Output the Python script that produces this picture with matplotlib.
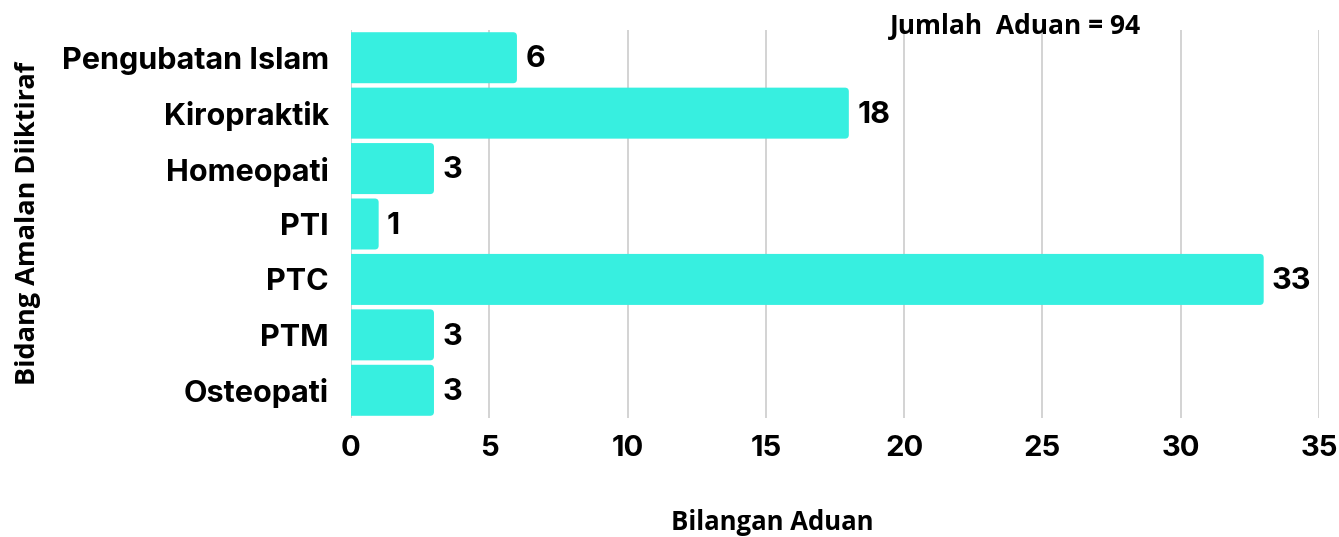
import matplotlib.pyplot as plt
from matplotlib.patches import FancyBboxPatch

# data (top to bottom)
categories = ['Pengubatan Islam', 'Kiropraktik', 'Homeopati', 'PTI', 'PTC', 'PTM', 'Osteopati']
counts = [6, 18, 3, 1, 33, 3, 3]
x_ticks = [0, 5, 10, 15, 20, 25, 30, 35]
total_label = 'Jumlah  Aduan = 94'

bar_color = '#37EFE0'
plt.rcParams['font.family'] = ['Inter', 'DejaVu Sans']

fig = plt.figure(figsize=(13.39, 5.37), dpi=100)
ax = fig.add_axes([351 / 1339, 1 - 418 / 537, 968 / 1339, 388 / 537])

ypos = list(range(len(categories)))[::-1]
bars = ax.barh(ypos, counts, height=0.92, color=bar_color, zorder=2)

# swap plain bars for ones with slightly rounded corners
for b in bars:
    b.set_visible(False)
    x0, y0, w, h = b.get_x(), b.get_y(), b.get_width(), b.get_height()
    p = FancyBboxPatch((x0 - 0.3, y0), w + 0.3, h,
                       boxstyle='round,pad=0,rounding_size=0.14',
                       mutation_aspect=0.5, facecolor=bar_color,
                       edgecolor='none', zorder=2)
    ax.add_patch(p)

for y, v in zip(ypos, counts):
    ax.text(v + 0.3, y - 0.03, str(v), va='center', ha='left',
            fontsize=22, fontweight='bold', color='black')

ax.set_xlim(0, 35)
ax.set_ylim(-0.5, len(categories) - 0.5)
ax.set_xticks(x_ticks)
ax.set_yticks(ypos)
ax.set_yticklabels(categories)
ax.tick_params(axis='x', length=0, labelsize=21, pad=12)
ax.tick_params(axis='y', length=0, labelsize=22, pad=16)
for lab in ax.get_xticklabels() + ax.get_yticklabels():
    lab.set_fontweight('bold')

ax.grid(axis='x', color='#cccccc', linewidth=1.2, zorder=0)
ax.set_axisbelow(True)
for s in ax.spines.values():
    s.set_visible(False)

fig.text(1015 / 1339, 1 - 27 / 537, total_label, ha='center', va='center',
         fontsize=19, fontweight='bold', family=['Open Sans', 'DejaVu Sans'])
fig.text(772 / 1339, 1 - 522 / 537, 'Bilangan Aduan', ha='center', va='center',
         fontsize=18.5, fontweight='bold', family=['Open Sans', 'DejaVu Sans'])
fig.text(28 / 1339, 1 - 223 / 537, 'Bidang Amalan Diiktiraf', ha='center', va='center',
         rotation=90, fontsize=19.5, fontweight='bold', family=['Open Sans', 'DejaVu Sans'])

fig.savefig('out.png', dpi=100)
